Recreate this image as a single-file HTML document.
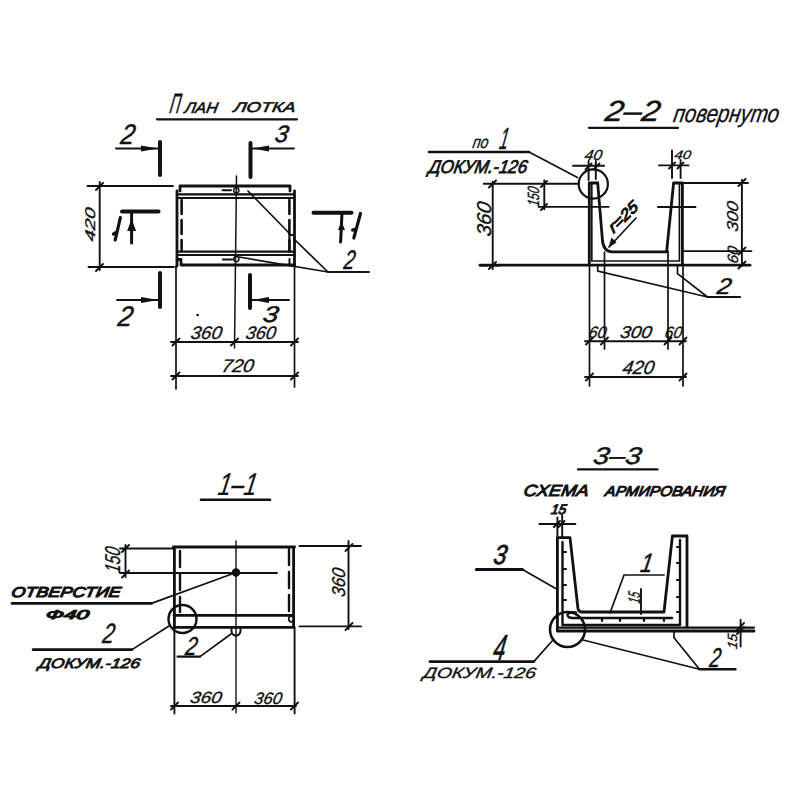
<!DOCTYPE html>
<html><head><meta charset="utf-8">
<style>
html,body{margin:0;padding:0;background:#fff;width:800px;height:800px;overflow:hidden}
svg{display:block}
.m{stroke:#111;stroke-width:2.8;fill:none;stroke-linecap:round;stroke-linejoin:round}
.d{stroke:#111;stroke-width:1.9;fill:none;stroke-linecap:round}
.b{stroke:#111;stroke-width:4;fill:none;stroke-linecap:round}
.t{stroke:#111;stroke-width:1.7;fill:none;stroke-linecap:round}
text{font-family:"Liberation Sans",sans-serif;font-style:italic;fill:#111;stroke:#111;stroke-width:0.35px}
</style></head><body>
<svg width="800" height="800" viewBox="0 0 800 800">
<rect width="800" height="800" fill="#fff"/>

<!-- ================= PLAN ================= -->
<g id="plan">
  <text transform="translate(169.0,113.0) skewX(-10)" font-size="27.8" textLength="10.2" lengthAdjust="spacingAndGlyphs" style="stroke-width:0.6px">П</text>
  <text transform="translate(183.9,113.1) skewX(-10)" font-size="15.3" textLength="33.2" lengthAdjust="spacingAndGlyphs" style="stroke-width:0.6px">ЛАН</text>
  <text transform="translate(233.0,112.2) skewX(-10)" font-size="14.2" textLength="62.0" lengthAdjust="spacingAndGlyphs" style="stroke-width:0.6px">ЛОТКА</text>
  <path class="m" d="M157 119.3H297" style="stroke-width:2.3"/>

  <!-- section marks -->
  <text transform="translate(119.8,144.0) skewX(-10)" font-size="28.4" textLength="13.7" lengthAdjust="spacingAndGlyphs" style="stroke-width:0.5px">2</text>
  <path class="d" d="M116 148.5H158"/><path d="M158 148.5l-17 -3v6z" fill="#111"/>
  <path class="b" d="M160 142V175"/>
  <text transform="translate(274.1,142.1) skewX(-10)" font-size="23.7" textLength="13.2" lengthAdjust="spacingAndGlyphs" style="stroke-width:0.5px">3</text>
  <path class="d" d="M251 148.5H294"/><path d="M252 148.5l17 -3v6z" fill="#111"/>
  <path class="b" d="M250.5 143V177"/>
  <text transform="translate(116.9,326.0) skewX(-10)" font-size="28.4" textLength="14.4" lengthAdjust="spacingAndGlyphs" style="stroke-width:0.5px">2</text>
  <path class="d" d="M117 300H158"/><path d="M158 300l-17 -3v6z" fill="#111"/>
  <path class="b" d="M160 273V307"/>
  <text transform="translate(262.0,322.1) skewX(-10)" font-size="22.7" textLength="15.3" lengthAdjust="spacingAndGlyphs" style="stroke-width:0.5px">3</text>
  <path class="d" d="M251 300H289"/><path d="M252 300l17 -3v6z" fill="#111"/>
  <path class="b" d="M250 275V308"/>
  <!-- 1 marks -->
  <path class="b" d="M122 211.6H158.5"/>
  <path class="m" d="M131.6 212V243" style="stroke-width:3"/><path d="M131.6 219l-4.5 12h9z" fill="#111"/>
  <path class="m" d="M115.2 240L120.4 217.5M113.5 234L117 232" style="stroke-width:3.2"/>
  <path class="b" d="M313.5 212.8H351.5"/>
  <path class="m" d="M342 213L340.6 242" style="stroke-width:3"/><path d="M341.5 221.5l-3.5 8.5h7z" fill="#111"/>
  <path class="m" d="M360.5 213.5L353.8 238M352.6 230L356 229" style="stroke-width:3.2"/>
  <!-- body -->
  <path class="m" d="M180 191V186H290V191"/>
  <path class="m" d="M177 194.4H294" style="stroke-width:2.4"/>
  <path class="m" d="M177 198H294" style="stroke-width:2.2"/>
  <path class="m" d="M177 191V266"/>
  <path class="m" d="M294.5 191V266"/>
  <path class="m" d="M181.6 200V250" stroke-dasharray="14 6" style="stroke-width:2.6"/>
  <path class="m" d="M289.4 200V250" stroke-dasharray="14 6" style="stroke-width:2.6"/>
  <path class="m" d="M177 251.6H294" style="stroke-width:2.4"/>
  <path class="m" d="M177 255H294" style="stroke-width:2"/>
  <path class="m" d="M177 259.5H181V265H294.5"/>
  <path class="m" d="M289.4 252V235H294" style="stroke-width:2.2"/><path class="t" d="M289.5 259V264" style="stroke-width:2"/>
  <!-- small holes -->
  <path class="m" d="M222.5 190.3H231" style="stroke-width:2"/><circle class="t" cx="236.3" cy="190.3" r="2.6" style="stroke-width:1.5"/>
  <path class="m" d="M223 259.5H232" style="stroke-width:2.2"/><circle class="t" cx="236.3" cy="259" r="2.6" style="stroke-width:1.5"/>
  <!-- center line -->
  <path class="t" d="M236.5 176L234.5 348" style="stroke-width:1.5"/>
  <!-- leaders -->
  <path class="t" d="M248 191L290 234M294 239L328 272M239 257L328 272"/><path class="m" d="M328 272H369" style="stroke-width:2.2"/>
  <text transform="translate(342.9,268.9) skewX(-10)" font-size="26.7" textLength="10.6" lengthAdjust="spacingAndGlyphs" style="stroke-width:0.5px">2</text>

  <!-- 420 dimension -->
  <path class="d" d="M87.5 186H173M88.5 267H174M99.7 182V270"/>
  <path class="d" d="M96 190l7 -7M96 271l7 -7"/>
  <text transform="translate(95.3,242.0) rotate(-90) skewX(-10)" font-size="14.1" textLength="33.6" lengthAdjust="spacingAndGlyphs">420</text>

  <!-- bottom dims -->
  <path class="t" d="M176 266V389M294.5 266V387"/>
  <path class="d" d="M171 342H298M171 376H298"/>
  <path class="d" d="M172.5 345.5l7 -7M231 345.5l7 -7M291 345.5l7 -7M172.5 379.5l7 -7M291 379.5l7 -7"/>
  <text transform="translate(190.0,339.1) skewX(-10)" font-size="18.1" textLength="31.0" lengthAdjust="spacingAndGlyphs">360</text>
  <text transform="translate(244.9,339.1) skewX(-10)" font-size="18.1" textLength="30.2" lengthAdjust="spacingAndGlyphs">360</text>
  <text transform="translate(221.0,372.3) skewX(-10)" font-size="18.3" textLength="32.0" lengthAdjust="spacingAndGlyphs">720</text>
  <circle cx="197.6" cy="315" r="1.3" fill="#111"/>
</g>

<!-- ================= SECTION 2-2 ================= -->
<g id="s22">
  <text transform="translate(604.0,121.0) skewX(-10)" font-size="29.0" textLength="54.8" lengthAdjust="spacingAndGlyphs" style="stroke-width:0.45px">2–2</text>
  <text transform="translate(672.5,122.2) skewX(-10)" font-size="24.8" textLength="105.5" lengthAdjust="spacingAndGlyphs">повернуто</text>
  <path class="m" d="M589 127.8H678" style="stroke-width:2.3"/>

  <text transform="translate(472.0,147.7) skewX(-10)" font-size="17.2" textLength="15.8" lengthAdjust="spacingAndGlyphs">по</text>
  <text transform="translate(498.4,148.6) skewX(-10)" font-size="30.6" textLength="8.5" lengthAdjust="spacingAndGlyphs" style="stroke-width:0.5px">1</text>
  <path class="m" d="M429 152H529" style="stroke-width:2.6"/><path class="t" d="M529 152L577.5 177.5"/>
  <text transform="translate(427.9,172.6) skewX(-10)" font-size="18.5" textLength="98.5" lengthAdjust="spacingAndGlyphs" style="stroke-width:0.8px">ДОКУМ.-126</text>
  <circle class="m" cx="593.3" cy="184" r="14.6" style="stroke-width:2.2"/>

  <!-- 40 dims -->
  <text transform="translate(584.0,160.4) skewX(-10)" font-size="14.6" textLength="17.3" lengthAdjust="spacingAndGlyphs">40</text>
  <path class="d" d="M573 165.8H604.2M588.6 161V180M595.8 161V179"/>
  <path class="d" d="M585.5 169.5l6 -6M593.5 169.5l6 -6"/>
  <text transform="translate(674.0,159.2) skewX(-10)" font-size="12.2" textLength="16.3" lengthAdjust="spacingAndGlyphs">40</text>
  <path class="d" d="M659 165.4H688.5M672 150.5V178M680.6 160V178"/>
  <path class="d" d="M669 168.5l6 -6M677.5 168.5l6 -6"/>

  <!-- 360 / 150 dims -->
  <path class="d" d="M483.8 183.8H578M492.7 181.7V269M480.3 265.5H500"/>
  <path class="d" d="M489 187.5l7 -7M489 269l7 -7"/>
  <text transform="translate(491.0,237.0) rotate(-90) skewX(-10)" font-size="20.0" textLength="34.0" lengthAdjust="spacingAndGlyphs">360</text>
  <path class="d" d="M544.3 180.3V209.2M538.8 206.9H608.7"/>
  <path class="d" d="M541 187l6 -6M541 210l6 -6"/>
  <text transform="translate(538.7,207.0) rotate(-90) skewX(-10)" font-size="16.3" textLength="19.5" lengthAdjust="spacingAndGlyphs">150</text>

  <!-- body -->
  <path class="m" d="M589.3 183V265M589.3 183H597.7"/>
  <path class="t" d="M591.8 183V261H679.4V183"/>
  <path class="m" d="M597.7 183L602.5 241Q604 251.8 612 251.8H666.6L673.6 183H682.4V265"/>
  <path class="m" d="M480 265.2H750"/>
  <path class="d" d="M682.4 251.1H751.5M673.6 183H748"/>
  <path class="d" d="M657.9 207H695.5"/>
  <path class="d" d="M741.9 180V266"/>
  <path class="d" d="M738.5 186l7 -7M738.5 254.5l7 -7M738.5 268.5l7 -7"/>
  <text transform="translate(738.4,232.3) rotate(-90) skewX(-10)" font-size="15.8" textLength="30.1" lengthAdjust="spacingAndGlyphs">300</text>
  <text transform="translate(738.4,264.1) rotate(-90) skewX(-10)" font-size="14.9" textLength="17.0" lengthAdjust="spacingAndGlyphs">60</text>
  <!-- r=25 -->
  <path class="t" d="M609 247L636 218"/><path d="M608.5 247.5l3 -10l5 5z" fill="#111"/>
  <text transform="translate(613.6,233.7) rotate(-45) skewX(-10)" font-size="15.2" textLength="36.0" lengthAdjust="spacingAndGlyphs" style="stroke-width:1.0px">r=25</text>

  <!-- bottom dims -->
  <path class="t" d="M589.5 265V386M604.5 252V349M668 251V349M683 265V386"/>
  <path class="d" d="M585 341.3H686M585 377H686"/>
  <path class="d" d="M586 344.5l7 -7M601 344.5l7 -7M664.5 344.5l7 -7M679.5 344.5l7 -7M586 380.5l7 -7M679.5 380.5l7 -7"/>
  <text transform="translate(588.0,337.6) skewX(-10)" font-size="16.5" textLength="17.6" lengthAdjust="spacingAndGlyphs">60</text>
  <text transform="translate(619.5,338.1) skewX(-10)" font-size="17.1" textLength="31.6" lengthAdjust="spacingAndGlyphs">300</text>
  <text transform="translate(664.1,337.5) skewX(-10)" font-size="16.4" textLength="17.2" lengthAdjust="spacingAndGlyphs">60</text>
  <text transform="translate(621.7,373.7) skewX(-10)" font-size="19.0" textLength="31.6" lengthAdjust="spacingAndGlyphs">420</text>
  <!-- leaders -->
  <path class="t" d="M597.7 265V271L707.5 297M677.5 265V273.7L707.5 297"/><path class="m" d="M707.5 297H740" style="stroke-width:2.2"/>
  <text transform="translate(716.2,293.5) skewX(-10)" font-size="22.6" textLength="13.9" lengthAdjust="spacingAndGlyphs" style="stroke-width:0.5px">2</text>
</g>

<!-- ================= SECTION 1-1 ================= -->
<g id="s11">
  <text transform="translate(217.1,494.9) skewX(-10)" font-size="31.6" textLength="38.6" lengthAdjust="spacingAndGlyphs" style="stroke-width:0.2px">1–1</text>
  <path class="m" d="M201 499.8H270" style="stroke-width:2.6"/>

  <path class="m" d="M173.4 547H294.6M174.4 547V627.4M293.6 547V627.4"/>
  <path class="m" d="M180 551V612" stroke-dasharray="16 7" style="stroke-width:2.4"/>
  <path class="m" d="M289 549V612" stroke-dasharray="16 7" style="stroke-width:2.4"/>
  <path class="m" d="M174 615.3H293M174 627.4H293"/>
  <path class="d" d="M174.4 627V713.5M294.6 627V713.5"/><path class="t" d="M236 541V713" style="stroke-width:1.4"/>
  <circle cx="236" cy="572.5" r="4.2" fill="#111"/>
  <path class="d" d="M120 573H277M120 548.5H174M125.5 545V577"/>
  <path class="d" d="M122 552l7 -7M122 577.5l7 -7"/>
  <text transform="translate(120.4,573.4) rotate(-90) skewX(-10)" font-size="21.4" textLength="25.4" lengthAdjust="spacingAndGlyphs">150</text>
  <path class="t" d="M236 572.5L151.5 603.4"/><path class="m" d="M151.5 603.4H12" style="stroke-width:2.6"/>
  <text transform="translate(10.8,597.2) skewX(-10)" font-size="14.3" textLength="109.3" lengthAdjust="spacingAndGlyphs" style="stroke-width:1.1px">ОТВЕРСТИЕ</text>
  <text transform="translate(45.2,619.4) skewX(-10)" font-size="12.7" textLength="43.1" lengthAdjust="spacingAndGlyphs" style="stroke-width:1.1px">Ф40</text>
  <circle class="m" cx="182.5" cy="619" r="14" style="stroke-width:2.4"/>
  <path class="m" d="M33 649.6H132" style="stroke-width:2.6"/><path class="t" d="M132 649.6L169 626"/>
  <text transform="translate(101.8,642.9) skewX(-10)" font-size="28.0" textLength="11.3" lengthAdjust="spacingAndGlyphs" style="stroke-width:0.5px">2</text>
  <text transform="translate(38.1,667.9) skewX(-10)" font-size="13.7" textLength="101.4" lengthAdjust="spacingAndGlyphs" style="stroke-width:0.8px">ДОКУМ.-126</text>
  <path class="m" d="M177.6 656.6H200" style="stroke-width:2.2"/><path class="t" d="M200 656.6L231 634"/>
  <path class="m" d="M231.5 627.5V631A4.5 4.5 0 0 0 240.5 631V627.5" style="stroke-width:2"/>
  <circle class="t" cx="291.5" cy="619" r="2.8"/>
  <text transform="translate(184.4,655.4) skewX(-10)" font-size="25.8" textLength="11.4" lengthAdjust="spacingAndGlyphs" style="stroke-width:0.5px">2</text>

  <path class="d" d="M299.5 546H361M299.5 626.4H361M348.5 541V629"/>
  <path class="d" d="M345.5 551l7 -7M345.5 630l7 -7"/>
  <text transform="translate(345.0,597.5) rotate(-90) skewX(-10)" font-size="18.6" textLength="28.6" lengthAdjust="spacingAndGlyphs">360</text>

  <path class="d" d="M171 706H296"/>
  <path class="d" d="M171 709.5l7 -7M232.5 709.5l7 -7M291 709.5l7 -7"/>
  <text transform="translate(189.4,703.2) skewX(-10)" font-size="16.1" textLength="31.7" lengthAdjust="spacingAndGlyphs">360</text>
  <text transform="translate(253.6,703.6) skewX(-10)" font-size="16.5" textLength="27.6" lengthAdjust="spacingAndGlyphs">360</text>
</g>

<!-- ================= SECTION 3-3 ================= -->
<g id="s33">
  <text transform="translate(592.3,463.8) skewX(-10)" font-size="24.0" textLength="48.0" lengthAdjust="spacingAndGlyphs" style="stroke-width:0.45px">3–3</text>
  <path class="m" d="M578 469.4H657.5" style="stroke-width:2.3"/>
  <text transform="translate(523.1,495.8) skewX(-10)" font-size="16.1" textLength="64.9" lengthAdjust="spacingAndGlyphs" style="stroke-width:1.0px">СХЕМА</text>
  <text transform="translate(604.6,495.8) skewX(-10)" font-size="14.2" textLength="119.8" lengthAdjust="spacingAndGlyphs" style="stroke-width:1.0px">АРМИРОВАНИЯ</text>

  <text transform="translate(550.4,513.9) skewX(-10)" font-size="13.7" textLength="15.1" lengthAdjust="spacingAndGlyphs" style="stroke-width:1.0px">15</text>
  <path class="d" d="M539.4 524H575.4M557.4 517.5V537M562.2 515V537"/>
  <path class="d" d="M554 527l6 -6M558.5 527l6 -6"/>

  <!-- body -->
  <path class="m" d="M557.4 537.6V631H754M557.4 537.6H570L578 609Q579 612 582 612H664L672.4 536H687V627"/>
  <path class="m" d="M559.5 627.6H754" style="stroke-width:2.2"/>
  <path class="m" d="M562.5 542V625H680V540" style="stroke-width:2.4"/>
  <path class="m" d="M563 552h3M563 569h3M563 585h3M563 600h3M680 547h-3M680 563h-3M680 580h-3M680 597h-3M680 612h-3" style="stroke-width:2.2"/>
  <path class="m" d="M672 618H573Q567 618 567.5 614.5Q569 611.5 576 612.5" style="stroke-width:2.4"/>
  <path class="m" d="M602 618v3M620 618v3M644 618v3M664 618v3" style="stroke-width:2.2"/>
  <circle class="m" cx="567.5" cy="629.5" r="17.5" style="stroke-width:2.6"/>

  <!-- labels -->
  <text transform="translate(639.6,571.6) skewX(-10)" font-size="26.5" textLength="12.0" lengthAdjust="spacingAndGlyphs" style="stroke-width:0.5px">1</text>
  <path class="t" d="M664 575H624L610 613"/>
  <path class="d" d="M641 589V614"/>
  <text transform="translate(639.8,603.9) rotate(-90) skewX(-10)" font-size="16.9" textLength="11.1" lengthAdjust="spacingAndGlyphs">15</text>

  <text transform="translate(492.6,564.1) skewX(-10)" font-size="27.3" textLength="12.9" lengthAdjust="spacingAndGlyphs" style="stroke-width:0.8px">3</text>
  <path class="m" d="M476.4 569.4H522.5" style="stroke-width:3"/>
  <path class="t" d="M522.5 569.4L557.4 589.6"/>

  <text transform="translate(492.0,659.7) skewX(-10)" font-size="36.4" textLength="12.0" lengthAdjust="spacingAndGlyphs" style="stroke-width:0.6px">4</text>
  <path class="m" d="M430 661.6H533.8" style="stroke-width:2.8"/>
  <path class="t" d="M533.8 661.6L553 640"/>
  <text transform="translate(422.5,677.9) skewX(-10)" font-size="14.9" textLength="112.8" lengthAdjust="spacingAndGlyphs" style="stroke-width:0.35px">ДОКУМ.-126</text>

  <path class="t" d="M583 640L699.5 669.2M674 631V637.7L699.5 669.2"/><path class="m" d="M699.5 669.2H735.4" style="stroke-width:2.4"/>
  <text transform="translate(708.8,666.7) skewX(-10)" font-size="27.1" textLength="10.5" lengthAdjust="spacingAndGlyphs" style="stroke-width:0.5px">2</text>
  <path class="d" d="M740.6 620V646.5"/>
  <path class="d" d="M737 630l7 -7M737 634l7 -7"/>
  <text transform="translate(736.5,649.4) rotate(-90) skewX(-10)" font-size="13.4" textLength="14.9" lengthAdjust="spacingAndGlyphs">15</text>
</g>
</svg>
</body></html>
